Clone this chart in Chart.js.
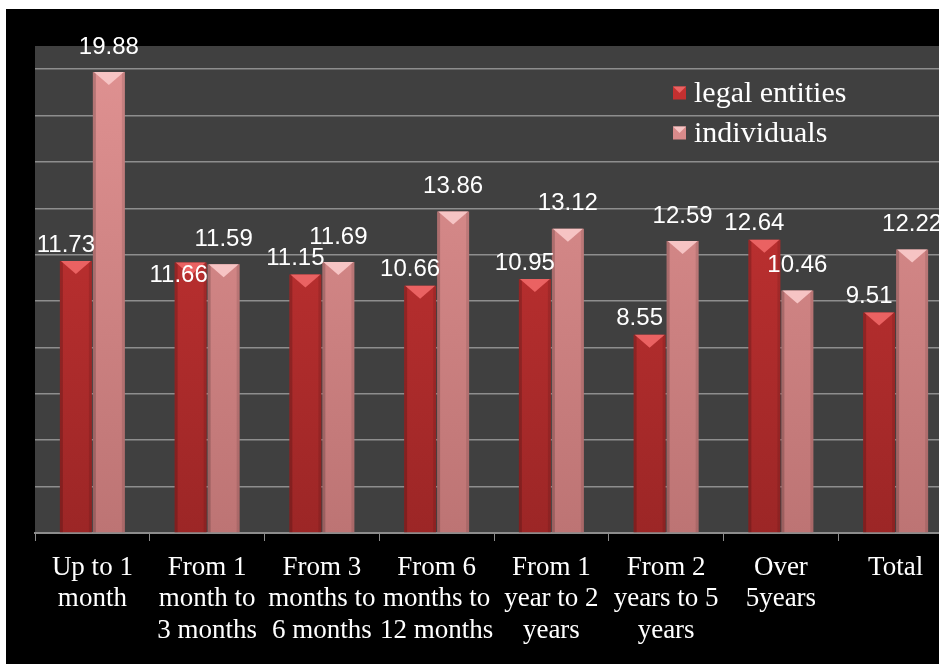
<!DOCTYPE html>
<html>
<head>
<meta charset="utf-8">
<script src="https://cdn.jsdelivr.net/npm/chart.js@4"></script>
<style>
  html, body { margin: 0; padding: 0; background: #ffffff; overflow: hidden; width: 939px; height: 664px; }
  #wrap { position: absolute; left: 6px; top: 9px; width: 960px; height: 655px; }
</style>
</head>
<body>
<div id="wrap"><canvas id="c" width="960" height="655"></canvas></div>
<script>
const categories = [
  ["Up to 1", "month"],
  ["From 1", "month to", "3 months"],
  ["From 3", "months to", "6 months"],
  ["From 6", "months to", "12 months"],
  ["From 1", "year to 2", "years"],
  ["From 2", "years to 5", "years"],
  ["Over", "5years"],
  ["Total"]
];
const seriesNames = ["legal entities", "individuals"];
const legalEntities = [11.73, 11.66, 11.15, 10.66, 10.95, 8.55, 12.64, 9.51];
const individuals = [19.88, 11.59, 11.69, 13.86, 13.12, 12.59, 10.46, 12.22];
const yMin = 0, yMax = 21, yStep = 2;

const palette = [
  { top: '#cc3535', bottom: '#9c2626', light: '#ea6262', legend: '#c43030' },
  { top: '#e09292', bottom: '#bd7474', light: '#f6c4c4', legend: '#d88a8a' }
];

function gradFor(i) {
  return function (ctx) {
    const chart = ctx.chart, a = chart.chartArea;
    if (!a) return palette[i].top;
    const g = chart.ctx.createLinearGradient(0, a.top, 0, a.bottom);
    g.addColorStop(0, palette[i].top);
    g.addColorStop(1, palette[i].bottom);
    return g;
  };
}

const bgPlugin = {
  id: 'bg',
  beforeDraw(chart) {
    const c = chart.ctx, a = chart.chartArea;
    c.save();
    c.fillStyle = '#000000';
    c.fillRect(0, 0, chart.width, chart.height);
    c.fillStyle = '#404040';
    c.fillRect(a.left, a.top, a.right - a.left, a.bottom - a.top);
    c.restore();
  }
};

const decoPlugin = {
  id: 'deco',
  afterDatasetsDraw(chart) {
    const c = chart.ctx;
    c.save();
    chart.data.datasets.forEach((ds, di) => {
      const meta = chart.getDatasetMeta(di);
      meta.data.forEach((bar) => {
        const w = bar.width, l = bar.x - w / 2, r = bar.x + w / 2;
        c.fillStyle = 'rgba(0,0,0,0.18)';
        c.fillRect(l, bar.y, 3, bar.base - bar.y);
        c.fillStyle = 'rgba(0,0,0,0.10)';
        c.fillRect(r - 3, bar.y, 3, bar.base - bar.y);
        c.fillStyle = palette[di].light;
        c.beginPath();
        c.moveTo(l + 1, bar.y);
        c.lineTo(r - 1, bar.y);
        c.lineTo(bar.x, bar.y + 13);
        c.closePath();
        c.fill();
      });
    });
    c.restore();
  }
};

const labelPlugin = {
  id: 'vlabels',
  afterDatasetsDraw(chart) {
    const c = chart.ctx;
    c.save();
    c.font = '24px "Liberation Sans", Arial, sans-serif';
    c.fillStyle = '#ffffff';
    c.textAlign = 'center';
    c.textBaseline = 'middle';
    const m0 = chart.getDatasetMeta(0).data, m1 = chart.getDatasetMeta(1).data;
    const d0 = chart.data.datasets[0].data, d1 = chart.data.datasets[1].data;
    for (let i = 0; i < m0.length; i++) {
      const b0 = m0[i], b1 = m1[i];
      const p1 = { x: b1.x, y: b1.y - 25 };
      let p0 = { x: b0.x - 10, y: b0.y - 16 };
      if (Math.abs(p0.y - p1.y) < 19 && Math.abs(p0.x - p1.x) < 60) {
        p0 = { x: b0.x - 12, y: b0.y + 13 };
      }
      c.fillText(d0[i].toFixed(2), p0.x, p0.y);
      c.fillText(d1[i].toFixed(2), p1.x, p1.y);
    }
    c.restore();
  }
};

const legendPlugin = {
  id: 'customLegend',
  afterDraw(chart) {
    const c = chart.ctx;
    c.save();
    c.font = '30px "Liberation Serif", "Times New Roman", serif';
    c.textBaseline = 'middle';
    c.textAlign = 'left';
    const x0 = 667, y0 = 84, gap = 40, box = 13;
    seriesNames.forEach((name, i) => {
      const y = y0 + i * gap;
      c.fillStyle = palette[i].legend;
      c.fillRect(x0, y - box / 2, box, box);
      c.fillStyle = palette[i].light;
      c.beginPath();
      c.moveTo(x0, y - box / 2);
      c.lineTo(x0 + box, y - box / 2);
      c.lineTo(x0 + box / 2, y);
      c.closePath();
      c.fill();
      c.fillStyle = '#ffffff';
      c.fillText(name, x0 + 21, y + 1);
    });
    c.restore();
  }
};

new Chart(document.getElementById('c'), {
  type: 'bar',
  data: {
    labels: categories,
    datasets: [
      { label: seriesNames[0], data: legalEntities, backgroundColor: gradFor(0), borderWidth: 0 },
      { label: seriesNames[1], data: individuals, backgroundColor: gradFor(1), borderWidth: 0 }
    ]
  },
  options: {
    responsive: false,
    animation: false,
    events: [],
    datasets: { bar: { categoryPercentage: 0.575, barPercentage: 0.97 } },
    layout: { padding: { top: 37, right: 13, left: 0, bottom: 0 } },
    plugins: { legend: { display: false }, tooltip: { enabled: false } },
    scales: {
      x: {
        offset: true,
        grid: { drawOnChartArea: false, drawTicks: true, tickLength: 8, color: '#8c8c8c', offset: true },
        border: { display: true, color: '#8c8c8c', width: 2 },
        ticks: {
          color: '#ffffff',
          font: { family: '"Liberation Serif", "Times New Roman", serif', size: 27, lineHeight: 1.17 },
          padding: 11,
          maxRotation: 0,
          autoSkip: false
        },
        afterFit(scale) { scale.height = 131; }
      },
      y: {
        min: yMin,
        max: yMax,
        ticks: { display: false, stepSize: yStep },
        grid: {
          drawTicks: false,
          color: (ctx) => (ctx.tick && ctx.tick.value % yStep === 0 && ctx.tick.value > 0) ? '#8e8e8e' : 'rgba(0,0,0,0)',
          lineWidth: 1.5
        },
        border: { display: false },
        afterFit(scale) { scale.width = 29; }
      }
    }
  },
  plugins: [bgPlugin, decoPlugin, labelPlugin, legendPlugin]
});
</script>
</body>
</html>
